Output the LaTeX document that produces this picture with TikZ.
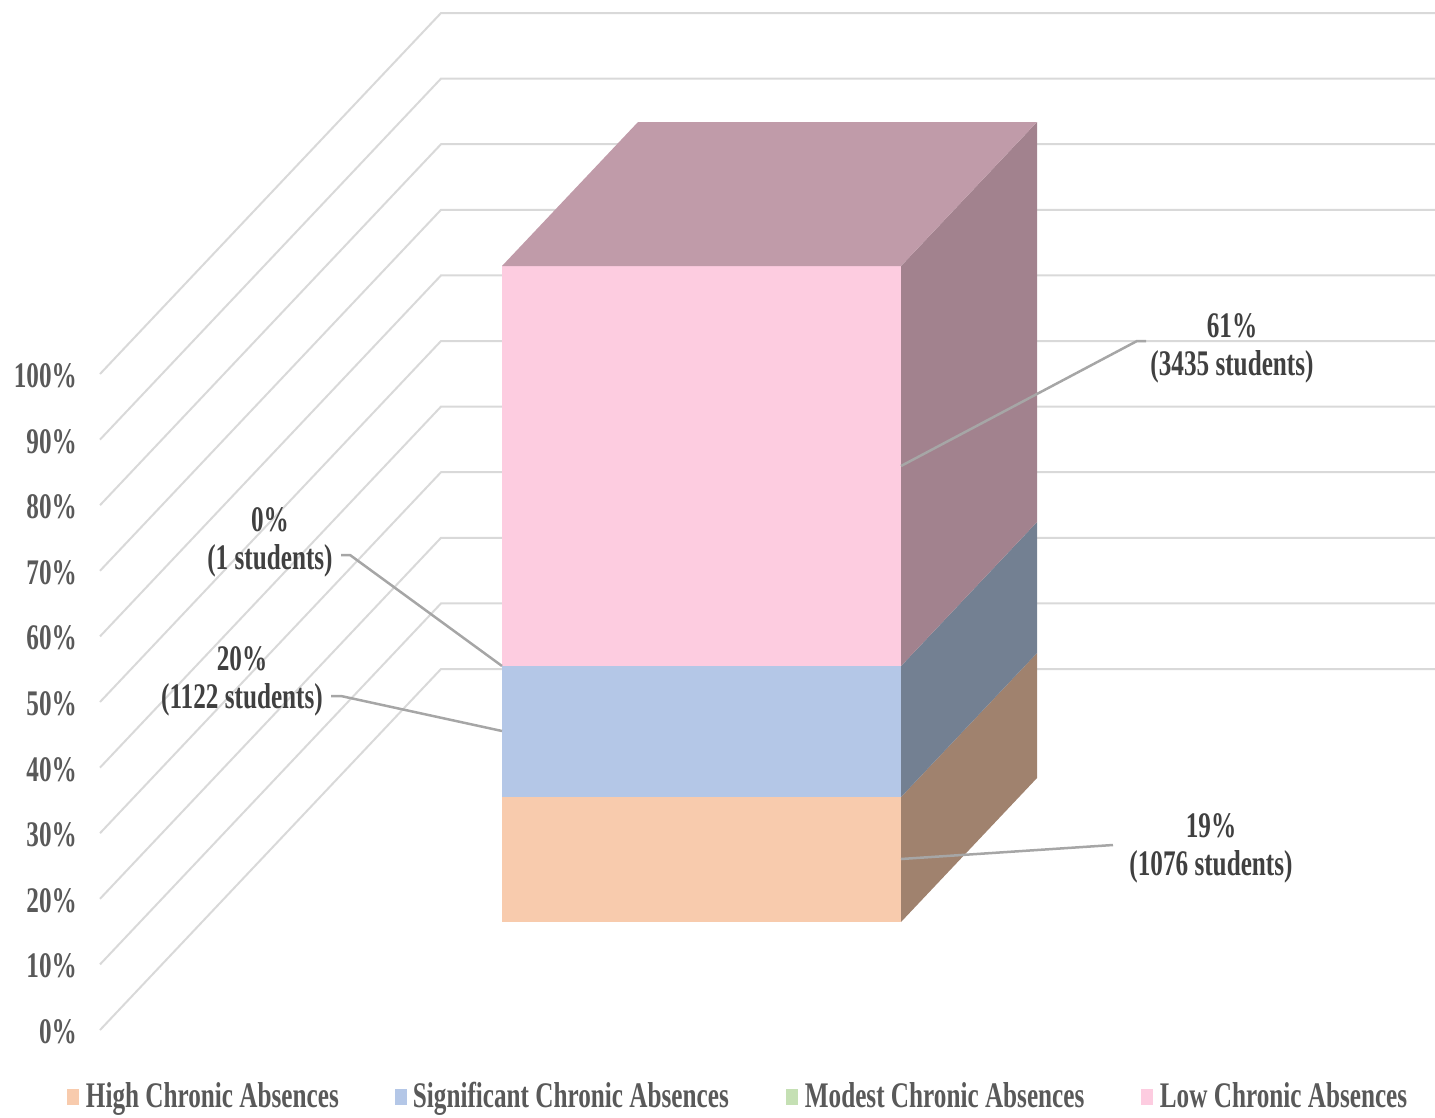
\documentclass[tikz,border=0pt]{standalone}
\usepackage{fontspec}
\setmainfont{Liberation Serif}[FakeStretch=0.70]
\usetikzlibrary{positioning}

\definecolor{gridgray}{HTML}{D9D9D9}
\definecolor{leadgray}{HTML}{A6A6A6}
\definecolor{axistext}{HTML}{595959}
\definecolor{labeltext}{HTML}{404040}
\definecolor{highfront}{HTML}{F8CBAD}
\definecolor{highside}{HTML}{A0826E}
\definecolor{sigfront}{HTML}{B4C7E7}
\definecolor{sigside}{HTML}{738092}
\definecolor{modfront}{HTML}{C5E0B4}
\definecolor{lowfront}{HTML}{FDCCE0}
\definecolor{lowside}{HTML}{A2828E}
\definecolor{lowtop}{HTML}{C09BA9}

\begin{document}
\begin{tikzpicture}[
  x=1pt, y=-1pt,
  every node/.style={font=\fontsize{36}{38}\selectfont\bfseries, inner sep=0pt},
  grid/.style={draw=gridgray, line width=2pt},
  leader/.style={draw=leadgray, line width=2.5pt},
  axislbl/.style={anchor=east, text=axistext},
  datalbl/.style={align=center, text=labeltext},
  legsq/.style={minimum width=12pt, minimum height=16pt},
  legtxt/.style={text=axistext, anchor=west, text height=27pt, text depth=7pt}
]
  \useasboundingbox (0,0) rectangle (1435,1117);

  % floor-to-wall grid, 0% up to 100%
  \draw[grid] (100,1030.0) -- (441,669.0) -- (1435,669.0);
  \node[axislbl] (ax0) at (77,1032) {0\%};
  \draw[grid] (100,964.4) -- (441,603.4) -- (1435,603.4);
  \node[axislbl] (ax10) at (77,966) {10\%};
  \draw[grid] (100,898.8) -- (441,537.8) -- (1435,537.8);
  \node[axislbl] (ax20) at (77,901) {20\%};
  \draw[grid] (100,833.2) -- (441,472.2) -- (1435,472.2);
  \node[axislbl] (ax30) at (77,835) {30\%};
  \draw[grid] (100,767.6) -- (441,406.6) -- (1435,406.6);
  \node[axislbl] (ax40) at (77,770) {40\%};
  \draw[grid] (100,702.0) -- (441,341.0) -- (1435,341.0);
  \node[axislbl] (ax50) at (77,704) {50\%};
  \draw[grid] (100,636.4) -- (441,275.4) -- (1435,275.4);
  \node[axislbl] (ax60) at (77,638) {60\%};
  \draw[grid] (100,570.8) -- (441,209.8) -- (1435,209.8);
  \node[axislbl] (ax70) at (77,573) {70\%};
  \draw[grid] (100,505.2) -- (441,144.2) -- (1435,144.2);
  \node[axislbl] (ax80) at (77,507) {80\%};
  \draw[grid] (100,439.6) -- (441,78.6) -- (1435,78.6);
  \node[axislbl] (ax90) at (77,442) {90\%};
  \draw[grid] (100,374.0) -- (441,13.0) -- (1435,13.0);
  \node[axislbl] (ax100) at (77,376) {100\%};

  % stacked 3D column
  \fill[highfront] (502,797) rectangle (901,922);
  \fill[highside] (901,797) -- (901,922) -- (1037,778) -- (1037,653) -- cycle;
  \fill[sigfront] (502,666) rectangle (901,797);
  \fill[sigside] (901,666) -- (901,797) -- (1037,653) -- (1037,522) -- cycle;
  \fill[lowfront] (502,266) rectangle (901,666);
  \fill[lowside] (901,266) -- (901,666) -- (1037,522) -- (1037,122) -- cycle;
  \fill[lowtop] (502,266) -- (901,266) -- (1037,122) -- (638,122) -- cycle;

  % data labels
  \coordinate (mLow) at (901,466);
  \coordinate (mHigh) at (901,859);
  \coordinate (mSig) at (502,731);
  \coordinate (mMod) at (502,666);

  \node[datalbl] (lblLow) at (1232,348) {61\%\\(3435 students)};
  \coordinate (eLow) at (1146,341);
  \draw[leader] (mLow) -- (1137,341) -- (eLow);

  \node[datalbl] (lblHigh) at (1211,848) {19\%\\(1076 students)};
  \coordinate (eHigh) at (1113,845);
  \draw[leader] (mHigh) -- (eHigh);

  \node[datalbl] (lblMod) at (270,542) {0\%\\(1 students)};
  \coordinate (eMod) at (341,555);
  \draw[leader] (eMod) -- (350,555) -- (mMod);

  \node[datalbl] (lblSig) at (242,681) {20\%\\(1122 students)};
  \coordinate (eSig) at (331,696);
  \draw[leader] (eSig) -- (341,696) -- (mSig);

  % legend
  \node[legsq, fill=highfront] (sqHigh) at (72.5,1097) {};
  \node[legtxt, right=7pt of sqHigh] (txtHigh) {High Chronic Absences};
  \node[legsq, fill=sigfront] (sqSig) at (400.5,1097) {};
  \node[legtxt, right=6pt of sqSig] (txtSig) {Significant Chronic Absences};
  \node[legsq, fill=modfront] (sqMod) at (791.5,1097) {};
  \node[legtxt, right=7pt of sqMod] (txtMod) {Modest Chronic Absences};
  \node[legsq, fill=lowfront] (sqLow) at (1146.5,1097) {};
  \node[legtxt, right=7pt of sqLow] (txtLow) {Low Chronic Absences};
\end{tikzpicture}
\end{document}
